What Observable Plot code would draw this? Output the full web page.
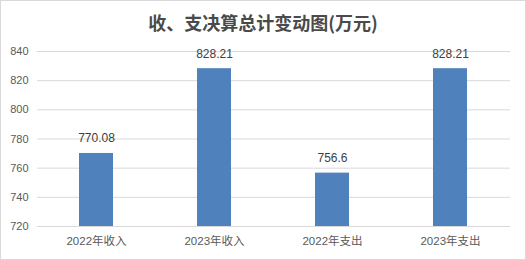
<!DOCTYPE html>
<html><head><meta charset="utf-8">
<script src="https://cdn.jsdelivr.net/npm/d3@7"></script>
<script src="https://cdn.jsdelivr.net/npm/@observablehq/plot@0.6"></script>
<style>
html,body{margin:0;padding:0;background:#fff;}
#wrap{position:relative;width:526px;height:260px;overflow:hidden;background:#fff;}
#title{position:absolute;left:0;top:0;width:526px;height:40px;line-height:44px;text-align:center;font-family:"Noto Sans CJK SC","Liberation Sans",sans-serif;font-weight:bold;font-size:18px;color:#4a4a4a;}
#chart{position:absolute;left:0;top:40px;}
#frame{position:absolute;left:0;top:0;width:524px;height:258px;border:1px solid #d9d9d9;pointer-events:none;}
</style></head>
<body>
<div id="wrap">
<div id="title">收、支决算总计变动图(万元)</div>
<div id="chart"></div>
<div id="frame"></div>
</div>
<script>
const categories = ["2022年收入", "2023年收入", "2022年支出", "2023年支出"];
const values = [770.08, 828.21, 756.6, 828.21];
const labels = ["770.08", "828.21", "756.6", "828.21"];
const yTicks = [720, 740, 760, 780, 800, 820, 840];

const data = categories.map((c, i) => ({cat: c, v: values[i], label: labels[i]}));
const font = "'Liberation Sans','Noto Sans CJK SC',sans-serif";

const chart = Plot.plot({
  width: 526,
  height: 220,
  marginTop: 11,
  marginBottom: 34,
  marginLeft: 37,
  marginRight: 16,
  style: {fontFamily: font, fontSize: "11px", color: "#595959", background: "transparent"},
  x: {domain: categories, paddingInner: 0.71, paddingOuter: 0.355, label: null},
  y: {domain: [720, 840], label: null},
  marks: [
    Plot.ruleY(yTicks, {stroke: "#d9d9d9", strokeWidth: 1}),
    Plot.barY(data, {x: "cat", y1: 720, y2: "v", fill: "#4f81bd"}),
    Plot.ruleY([720], {stroke: "#d9d9d9", strokeWidth: 1}),
    Plot.text(data, {x: "cat", y: "v", text: "label", dy: -15, fill: "#404040", fontSize: 12}),
    Plot.axisY(yTicks, {tickSize: 0, tickPadding: 9, fill: "#595959", fontSize: 11}),
    Plot.axisX({tickSize: 0, tickPadding: 10, fill: "#595959", fontSize: 11.5})
  ]
});
document.getElementById("chart").appendChild(chart);
</script>
</body></html>
